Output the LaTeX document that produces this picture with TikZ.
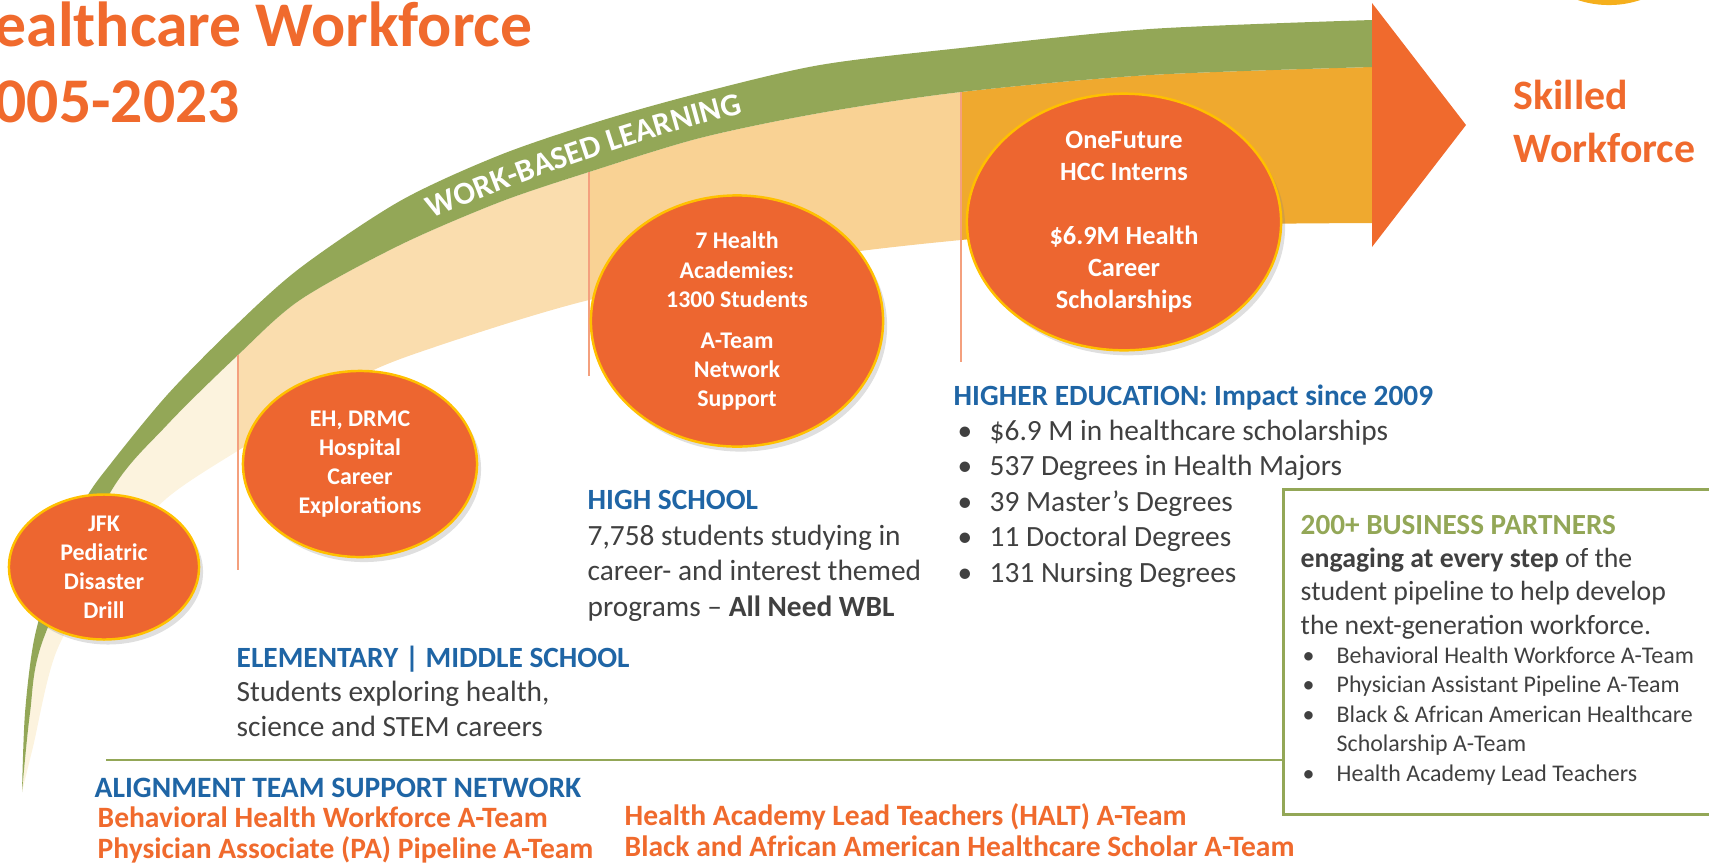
\documentclass[tikz,border=0pt]{standalone}
\usepackage{fontspec}
\setmainfont{Carlito}
\usepackage{tikz}
\newcommand{\stagesize}{\fontsize{6.8}{8.25}\selectfont}
\newcommand{\bodysize}{\fontsize{8.35}{10.05}\selectfont}
\newcommand{\teamsize}{\fontsize{8.4}{8.68}\selectfont}
\newcommand{\listdot}[1]{\makebox[#1][l]{\textbullet}}
\definecolor{myOrange}{RGB}{237,102,48}
\definecolor{myTitle}{RGB}{240,106,45}
\definecolor{myYellow}{RGB}{255,192,0}
\definecolor{myGold}{RGB}{245,175,28}
\definecolor{myGreen}{RGB}{147,167,87}
\definecolor{myCream}{RGB}{252,243,222}
\definecolor{myPeachLight}{RGB}{250,221,174}
\definecolor{myPeach}{RGB}{249,210,148}
\definecolor{myOchre}{RGB}{239,169,47}
\definecolor{mySalmon}{RGB}{244,160,126}
\definecolor{myBlue}{RGB}{31,101,165}
\definecolor{myGray}{RGB}{64,64,64}
\usetikzlibrary{shapes.geometric,shadows,decorations.text}
\tikzset{
  stage/.style={ellipse,draw=myYellow,line width=0.7pt,fill=myOrange,text=white,align=center,inner sep=0,font=\bfseries\stagesize,drop shadow={shadow xshift=0.04cm,shadow yshift=-0.05cm,opacity=0.25}},
  block/.style={anchor=base west,inner sep=0,align=left,text=myGray,font=\bodysize},
  teams/.style={block,text=myTitle,font=\bfseries\teamsize},
  stageline/.style={draw=mySalmon,line width=0.6pt},
  greenrule/.style={draw=myGreen,line width=0.8pt},
}
\begin{document}
\begin{tikzpicture}[x=0.01cm,y=-0.01cm]
  \useasboundingbox (0,0) rectangle (1709,866);
  \fill[myGold] (1609,-94) circle[radius=0.99cm];
  \begin{scope}
    \clip plot[smooth] coordinates {(22,792) (30,713) (43,640) (110,493) (167,425) (238,355) (300,300) (400,245) (500,202) (589,172) (700,138) (820,113) (961,92) (1150,75) (1372,67)}
      -- plot[smooth] coordinates {(1372,223) (1150,226) (961,240) (796,260) (589,300) (420,352) (350,382) (247,445) (167,498) (110,562) (57,650) (33,747) (22,792)} -- cycle;
    \fill[myCream] (0,0) rectangle (238,866);
    \fill[myPeachLight] (238,0) rectangle (589,866);
    \fill[myPeach] (589,0) rectangle (961,866);
    \fill[myOchre] (961,0) rectangle (1372,866);
  \end{scope}
  \fill[myGreen] plot[smooth] coordinates {(22,792) (25,713) (34,640) (52,578) (84,502) (112,462) (168,394) (233,328) (300,268) (400,201) (500,155) (600,121) (700,93) (820,65) (961,48) (1150,29) (1372,20)}
    -- plot[smooth] coordinates {(1372,67) (1150,75) (961,92) (820,113) (700,138) (589,172) (500,202) (400,245) (300,300) (238,355) (167,425) (110,493) (43,640) (30,713) (22,792)} -- cycle;
  \fill[myTitle] (1372,3) -- (1466,125) -- (1372,247) -- cycle;
  \path[decorate,decoration={text along path,text align=center,text={|\color{white}\bfseries\fontsize{9.1}{10}\selectfont|WORK-BASED LEARNING}}]
    (378,242) .. controls (500,188) and (640,134) .. (800,100);
  \draw[stageline] (238,355) -- (238,570);
  \draw[stageline] (589,172) -- (589,376);
  \draw[stageline] (961,92) -- (961,362);

  \node[stage,minimum width=1.9cm,minimum height=1.44cm] (jfk) at (104,567) {JFK\\Pediatric\\Disaster\\Drill};
  \node[stage,minimum width=2.34cm,minimum height=1.86cm] (hospital) at (360,464) {EH, DRMC\\Hospital\\Career\\Explorations};
  \node[stage,minimum width=2.92cm,minimum height=2.48cm] (academies) at (737,321) {7 Health\\Academies:\\1300 Students\\[0.12cm]A-Team\\Network\\Support};
  \node[stage,minimum width=3.14cm,minimum height=2.26cm,font=\bfseries\fontsize{7.5}{9.1}\selectfont] (onefuture) at (1124,222) {OneFuture\\HCC Interns\\[0.32cm]\$6.9M Health\\Career\\Scholarships};

  \node[anchor=base west,inner sep=0,align=left,text=myTitle,font=\bfseries\fontsize{18.1}{21.6}\selectfont] (title) at (-6,122) {ealthcare Workforce\\005-2023};
  \node[anchor=base west,inner sep=0,align=left,text=myTitle,font=\bfseries\fontsize{11.9}{14.8}\selectfont] (skilled) at (1513,162) {Skilled\\Workforce};

  \node[block,font=\fontsize{8.35}{9.8}\selectfont] (elementary) at (236,736) {{\color{myBlue}\bfseries ELEMENTARY | MIDDLE SCHOOL}\\Students exploring health,\\science and STEM careers};
  \node[block] (highschool) at (587,616) {{\color{myBlue}\bfseries HIGH SCHOOL}\\7,758 students studying in\\career- and interest themed\\programs -- {\bfseries All Need WBL}};
  \node[block] (higher) at (953,582) {{\color{myBlue}\bfseries HIGHER EDUCATION: Impact since 2009}\\\hspace*{0.04cm}\listdot{0.32cm}\$6.9 M in healthcare scholarships\\\hspace*{0.04cm}\listdot{0.32cm}537 Degrees in Health Majors\\\hspace*{0.04cm}\listdot{0.32cm}39 Master’s Degrees\\\hspace*{0.04cm}\listdot{0.32cm}11 Doctoral Degrees\\\hspace*{0.04cm}\listdot{0.32cm}131 Nursing Degrees};

  \node[draw=myGreen,line width=0.8pt,minimum width=4.5cm,minimum height=3.25cm,anchor=north west,inner sep=0] (partners) at (1282,488) {};
  \coordinate (ruleStart) at (106,760);
  \draw[greenrule] (ruleStart) -- (ruleStart -| partners.west);
  \node[block,font=\fontsize{7.9}{9.4}\selectfont] (partnertext) at (1300,634) {{\color{myGreen}\bfseries\fontsize{8.3}{9.4}\selectfont 200+ BUSINESS PARTNERS}\\{\bfseries engaging at every step} of the\\student pipeline to help develop\\the next-generation workforce.};
  \node[block,font=\fontsize{6.8}{8.35}\selectfont] (partnerlist) at (1302,781) {\listdot{0.34cm}Behavioral Health Workforce A-Team\\\listdot{0.34cm}Physician Assistant Pipeline A-Team\\\listdot{0.34cm}Black \& African American Healthcare\\\hspace*{0.34cm}Scholarship A-Team\\\listdot{0.34cm}Health Academy Lead Teachers};

  \node[block,text=myBlue,font=\bfseries\teamsize] (ateam) at (94,797) {ALIGNMENT TEAM SUPPORT NETWORK};
  \node[teams] (teamsleft) at (97,858) {Behavioral Health Workforce A-Team\\Physician Associate (PA) Pipeline A-Team};
  \node[teams] (teamsright) at (624,856) {Health Academy Lead Teachers (HALT) A-Team\\Black and African American Healthcare Scholar A-Team};
\end{tikzpicture}
\end{document}
